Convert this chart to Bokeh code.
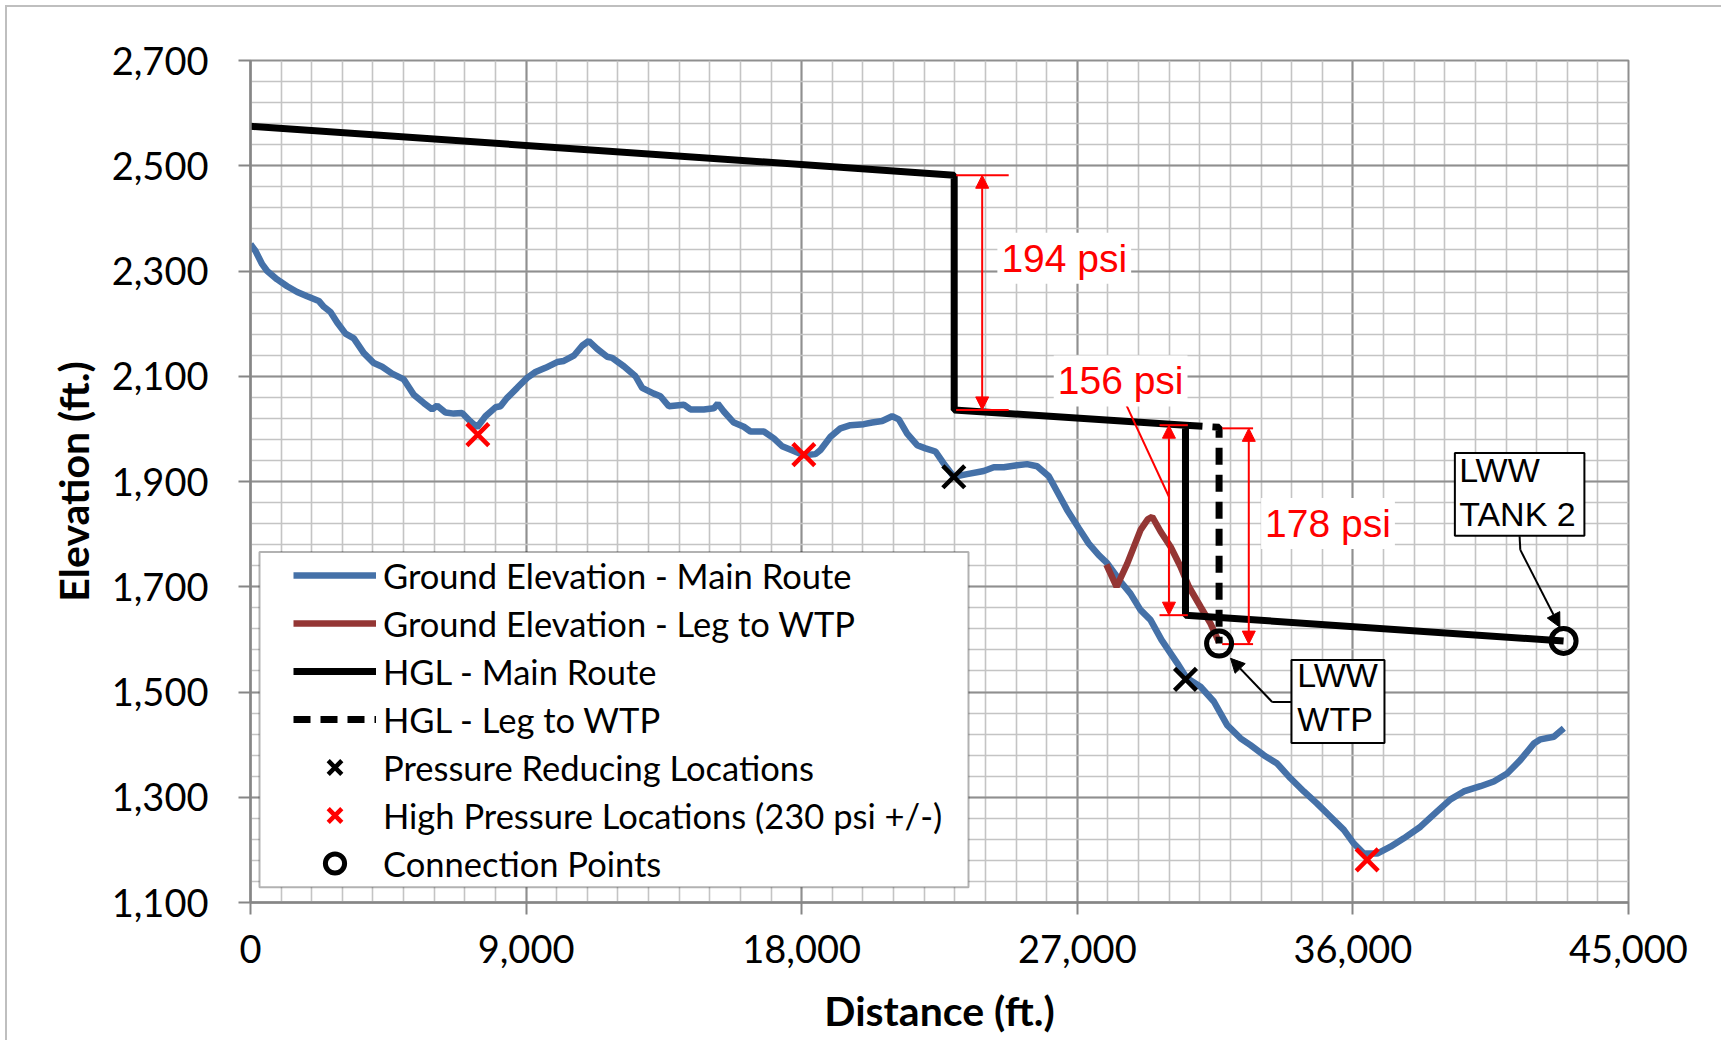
from bokeh.plotting import figure
from bokeh.models import (FixedTicker, NumeralTickFormatter, Legend, LegendItem,
                          Arrow, NormalHead, Label, BoxAnnotation)
from bokeh.core.properties import value
from bokeh.embed import file_html
from bokeh.resources import INLINE

# ---------------- data ----------------
main_x = [0, 163, 381, 544, 871, 1197, 1524, 1850, 2231, 2395, 2612, 2830, 3102, 3374,
          3701, 4027, 4299, 4626, 5007, 5333, 5660, 5932, 6095, 6367, 6639, 6911, 7183,
          7401, 7673, 8000, 8164, 8381, 8708, 9034, 9307, 9633, 10014, 10232, 10558,
          10830, 11048, 11320, 11647, 11810, 12191, 12572, 12790, 13170, 13388, 13660,
          14150, 14368, 14803, 15130, 15260, 15456, 15783, 16110, 16327, 16762, 17089,
          17361, 17742, 18069, 18450, 18613, 18940, 19266, 19593, 20028, 20300, 20627,
          20954, 21171, 21443, 21770, 22042, 22369, 22641, 22967, 23402, 23946, 24273,
          24600, 25035, 25361, 25688, 26069, 26341, 26668, 27049, 27375, 27702, 27974,
          28409, 28736, 29062, 29389, 29750, 30262, 30566, 31024, 31459, 31894, 32330,
          32656, 33091, 33527, 33962, 34398, 34833, 35269, 35704, 36031, 36357, 36792,
          37228, 37663, 38207, 38751, 39187, 39622, 40166, 40602, 41037, 41473, 41908,
          42126, 42561, 42888]
main_y = [2351, 2338, 2313, 2300, 2284, 2271, 2260, 2252, 2243, 2232, 2222, 2202, 2181, 2172,
          2144, 2125, 2118, 2105, 2094, 2065, 2049, 2037, 2044, 2031, 2029, 2030, 2014,
          2003, 2024, 2041, 2043, 2059, 2078, 2097, 2108, 2116, 2127, 2129, 2139,
          2158, 2167, 2152, 2137, 2135, 2119, 2100, 2078, 2067, 2062, 2043,
          2046, 2037, 2037, 2039, 2048, 2033, 2012, 2004, 1995, 1995, 1982,
          1967, 1958, 1950, 1952, 1960, 1985, 2001, 2007, 2009, 2012, 2015,
          2024, 2018, 1991, 1969, 1963, 1957, 1934, 1909, 1914, 1920, 1927,
          1927, 1931, 1933, 1929, 1910, 1881, 1846, 1811, 1782, 1760, 1745,
          1710, 1687, 1656, 1637, 1599, 1555, 1527, 1510, 1482, 1437, 1412,
          1399, 1380, 1364, 1336, 1311, 1288, 1263, 1238, 1212, 1193, 1193,
          1206, 1222, 1244, 1273, 1296, 1311, 1321, 1330, 1345, 1371, 1402,
          1410, 1415, 1431]

leg_x = [27950, 28282, 28631, 29066, 29300, 29447, 29719, 30046, 30372, 30644, 31025, 31352, 31630]
leg_y = [1742, 1700, 1744, 1808, 1828, 1833, 1805, 1776, 1738, 1700, 1662, 1630, 1594]

hgl_main_x = [0, 22980, 22980, 30533, 30533, 42880]
hgl_main_y = [2575, 2482, 2036, 2007, 1646, 1597]

hgl_leg_x = [30533, 31630, 31630]
hgl_leg_y = [2007, 2003, 1592]

prv_x = [22967, 30533]
prv_y = [1909, 1524]

hp_x = [7423, 18069, 36466]
hp_y = [1989, 1951, 1181]

cp_x = [31630, 42880]
cp_y = [1592, 1597]

x_ticks = [0, 9000, 18000, 27000, 36000, 45000]
y_ticks = [1100, 1300, 1500, 1700, 1900, 2100, 2300, 2500, 2700]
x_minor = list(range(0, 45001, 1000))
y_minor = list(range(1100, 2701, 40))

# pressure annotations (x of arrow, top, bottom, tick left/right, label text + position)
psi_arrow_x = [23894, 29993, 32600]
psi_top = [2482, 2007, 2001]
psi_bot = [2036, 1646, 1591]
psi_tick_l = [23043, 29685, 31730]
psi_tick_r = [24760, 30610, 32740]
psi_text = ["194 psi", "156 psi", "178 psi"]
psi_text_x = [26574, 28415, 35187]
psi_text_y = [2324, 2091, 1820]

# ---------------- figure ----------------
p = figure(width=1721, height=1040, x_range=(0, 45000), y_range=(1100, 2700),
           output_backend="svg", toolbar_location=None,
           min_border_left=250, min_border_right=93, min_border_top=60, min_border_bottom=138,
           background_fill_color="white", border_fill_alpha=0)
p.styles = {
    "background": "linear-gradient(#BFBFBF,#BFBFBF) 5px 5px / 2px 100% no-repeat, "
                  "linear-gradient(#BFBFBF,#BFBFBF) 5px 5px / 100% 2px no-repeat, white"
}

major_c = "#8F8F8F"
minor_c = "#C4C4C4"
axis_c = "#868686"

p.xaxis.ticker = FixedTicker(ticks=x_ticks, minor_ticks=x_minor)
p.yaxis.ticker = FixedTicker(ticks=y_ticks, minor_ticks=y_minor)
p.xgrid.ticker = FixedTicker(ticks=x_ticks, minor_ticks=x_minor)
p.ygrid.ticker = FixedTicker(ticks=y_ticks, minor_ticks=y_minor)
for g in (p.xgrid[0], p.ygrid[0]):
    g.grid_line_color = major_c
    g.grid_line_width = 2
    g.minor_grid_line_color = minor_c
    g.minor_grid_line_width = 1.6
p.outline_line_color = major_c
p.outline_line_width = 2

p.xaxis.formatter = NumeralTickFormatter(format="0,0")
p.yaxis.formatter = NumeralTickFormatter(format="0,0")
for ax in (p.xaxis[0], p.yaxis[0]):
    ax.axis_line_color = axis_c
    ax.axis_line_width = 2.5
    ax.major_tick_line_color = axis_c
    ax.major_tick_line_width = 2
    ax.major_tick_out = 12
    ax.major_tick_in = 0
    ax.minor_tick_line_color = None
    ax.major_label_text_font = "Lato"
    ax.major_label_text_font_size = "38px"
    ax.major_label_text_color = "black"
    ax.axis_label_text_font = "Lato"
    ax.axis_label_text_font_style = "bold"
    ax.axis_label_text_font_size = "41px"
    ax.axis_label_text_color = "black"
p.xaxis.axis_label = "Distance (ft.)"
p.yaxis.axis_label = "Elevation (ft.)"
p.xaxis.major_label_standoff = 20
p.yaxis.major_label_standoff = 30
p.xaxis.axis_label_standoff = 20
p.yaxis.axis_label_standoff = 11

# ---------------- series ----------------
r_main = p.line(main_x, main_y, line_color="#4571A8", line_width=6.5)
r_leg = p.line(leg_x, leg_y, line_color="#943634", line_width=6.5)
r_hgl = p.line(hgl_main_x, hgl_main_y, line_color="black", line_width=7)
r_hgl_leg = p.line(hgl_leg_x, hgl_leg_y, line_color="black", line_width=7, line_dash="17 10")

# red pressure annotations
p.segment(x0=psi_tick_l, y0=psi_top, x1=psi_tick_r, y1=psi_top, line_color="red", line_width=2)
p.segment(x0=psi_tick_l, y0=psi_bot, x1=psi_tick_r, y1=psi_bot, line_color="red", line_width=2)
for ax_, t_, b_ in zip(psi_arrow_x, psi_top, psi_bot):
    p.add_layout(Arrow(start=NormalHead(size=13, fill_color="red", line_color="red", line_width=1),
                       end=NormalHead(size=13, fill_color="red", line_color="red", line_width=1),
                       x_start=ax_, y_start=t_, x_end=ax_, y_end=b_,
                       line_color="red", line_width=2))
p.line([28500, 29993], [2058, 1871], line_color="red", line_width=2)
for t_, x_, y_ in zip(psi_text, psi_text_x, psi_text_y):
    p.add_layout(Label(x=x_, y=y_, text=t_, text_align="center", text_baseline="middle",
                       text_font="Liberation Sans", text_font_size="39px", text_color="red",
                       background_fill_color="white", padding=4))

# callout boxes
p.quad(left=[39330, 33994], right=[43560, 37031], bottom=[1797, 1403], top=[1954, 1561],
       fill_color="white", line_color="black", line_width=2)
p.text(x=[39470, 34184], y=[1880, 1490], text=["LWW\nTANK 2", "LWW\nWTP"],
       text_font=value("Liberation Sans"), text_font_size="34px", text_color="black",
       text_align="left", text_baseline="middle", text_line_height=1.17)
p.line([41443, 41467], [1796, 1770], line_color="black", line_width=2)
p.add_layout(Arrow(end=NormalHead(size=14, fill_color="black", line_color="black"),
                   start=None, x_start=41467, y_start=1770, x_end=42760, y_end=1623,
                   line_color="black", line_width=2))
p.line([34000, 33364], [1481, 1481], line_color="black", line_width=2)
p.add_layout(Arrow(end=NormalHead(size=14, fill_color="black", line_color="black"),
                   start=None, x_start=33364, y_start=1481, x_end=32003, y_end=1564,
                   line_color="black", line_width=2))

# markers
r_prv = p.scatter(prv_x, prv_y, marker="x", size=31, line_color="black", line_width=4.5)
r_hp = p.scatter(hp_x, hp_y, marker="x", size=31, line_color="red", line_width=4.5)
r_cp = p.scatter(cp_x, cp_y, marker="circle", size=25, line_color="black", line_width=5,
                 fill_alpha=0)

# ---------------- legend ----------------
p.add_layout(BoxAnnotation(left=294, right=23447, bottom=1129, top=1766,
                           fill_color="white", fill_alpha=1, line_color="black", line_width=2))
legend = Legend(items=[
    LegendItem(label="Ground Elevation - Main Route", renderers=[r_main]),
    LegendItem(label="Ground Elevation - Leg to WTP", renderers=[r_leg]),
    LegendItem(label="HGL - Main Route", renderers=[r_hgl]),
    LegendItem(label="HGL - Leg to WTP", renderers=[r_hgl_leg]),
    LegendItem(label="Pressure Reducing Locations", renderers=[r_prv]),
    LegendItem(label="High Pressure Locations (230 psi +/-)", renderers=[r_hp]),
    LegendItem(label="Connection Points", renderers=[r_cp]),
], location=(43, 15), padding=0, spacing=0, margin=0, glyph_width=83, glyph_height=48,
    label_height=48, label_standoff=7, label_text_font="Lato", label_text_font_size="34.5px",
    label_text_color="black", background_fill_alpha=0, border_line_alpha=0)
p.add_layout(legend)

open("out.html", "w").write(file_html(p, INLINE))
